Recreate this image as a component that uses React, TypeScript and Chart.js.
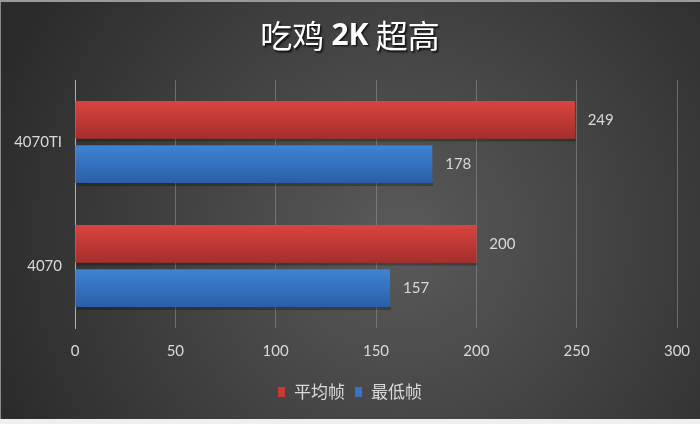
import React, { useEffect, useRef } from "react";
import { Chart, registerables } from "chart.js";

Chart.register(...registerables);

const categories = ["4070TI", "4070"];
const seriesNames = ["平均帧", "最低帧"];
const avgFps = [249, 200];
const minFps = [178, 157];
const xTicks = [0, 50, 100, 150, 200, 250, 300];
const titleText = "吃鸡 2K 超高";

const barColors = [
  { top: "#d94440", bottom: "#a52e2b", legend: "#c83a36" },
  { top: "#3f83d4", bottom: "#2b5ea6", legend: "#3874c4" },
];

const labelFont = "Lato, 'Noto Sans', sans-serif";

const bgPlugin = {
  id: "bgPlugin",
  beforeDraw(chart: any) {
    const { ctx, width, height } = chart;
    ctx.save();
    const g = ctx.createRadialGradient(400, 240, 0, 400, 240, 430);
    g.addColorStop(0, "#5a5a5a");
    g.addColorStop(1, "#2b2b2b");
    ctx.fillStyle = g;
    ctx.fillRect(0, 0, width, height);
    ctx.fillStyle = "#9a9a9a";
    ctx.fillRect(0, 0, width, 2);
    ctx.fillStyle = "#efefef";
    ctx.fillRect(0, height - 5, width, 5);
    ctx.fillStyle = "#8a8a8a";
    ctx.fillRect(0, 2, 1, height - 7);

    // title with shadow; latin segments bold
    const parts = titleText.split(/([A-Za-z0-9]+)/).filter((p) => p.length);
    const fonts = parts.map((p) =>
      /^[A-Za-z0-9]+$/.test(p)
        ? "bold 30px 'Noto Sans', 'Noto Sans CJK SC', sans-serif"
        : "400 32px 'Noto Sans CJK SC', sans-serif"
    );
    let total = 0;
    const widths = parts.map((p, i) => {
      ctx.font = fonts[i];
      const w = ctx.measureText(p).width;
      total += w;
      return w;
    });
    let x = width / 2 - total / 2;
    ctx.textBaseline = "middle";
    ctx.textAlign = "left";
    parts.forEach((p, i) => {
      ctx.font = fonts[i];
      ctx.shadowColor = "rgba(0,0,0,0.8)";
      ctx.shadowOffsetX = 1.5;
      ctx.shadowOffsetY = 1.5;
      ctx.shadowBlur = 2;
      ctx.fillStyle = "#ffffff";
      ctx.fillText(p, x, 36);
      x += widths[i];
    });
    ctx.restore();
  },
  afterDraw(chart: any) {
    // legend
    const { ctx, width } = chart;
    ctx.save();
    ctx.font = "17px 'Noto Sans CJK SC', serif";
    ctx.textBaseline = "middle";
    ctx.textAlign = "left";
    const boxW = 7;
    const boxH = 10;
    const gapBoxText = 9;
    const itemGap = 10;
    const tw = seriesNames.map((s) => ctx.measureText(s).width);
    const total =
      tw.reduce((a, b) => a + b, 0) + seriesNames.length * (boxW + gapBoxText) + itemGap * (seriesNames.length - 1);
    let x = width / 2 - total / 2;
    const y = 392;
    seriesNames.forEach((s, i) => {
      ctx.fillStyle = barColors[i].legend;
      ctx.fillRect(x, y - boxH / 2, boxW, boxH);
      x += boxW + gapBoxText;
      ctx.fillStyle = "#d9d9d9";
      ctx.fillText(s, x, y);
      x += tw[i] + itemGap;
    });
    ctx.restore();
  },
};

const barPlugin = {
  id: "barPlugin",
  afterDatasetsDraw(chart: any) {
    const { ctx } = chart;
    ctx.save();
    chart.data.datasets.forEach((ds: any, di: number) => {
      const meta = chart.getDatasetMeta(di);
      meta.data.forEach((el: any, idx: number) => {
        const x0 = Math.min(el.base, el.x);
        const w = Math.abs(el.x - el.base);
        const y0 = el.y - el.height / 2;
        const h = el.height;
        ctx.fillStyle = "rgba(0,0,0,0.25)";
        ctx.fillRect(x0 + 1, y0 + h, w, 3);
        const g = ctx.createLinearGradient(0, y0, 0, y0 + h);
        g.addColorStop(0, barColors[di].top);
        g.addColorStop(1, barColors[di].bottom);
        ctx.fillStyle = g;
        ctx.fillRect(x0, y0, w, h);
        ctx.fillStyle = "#d9d9d9";
        ctx.font = "15px " + labelFont;
        ctx.textAlign = "left";
        ctx.textBaseline = "middle";
        ctx.fillText(String(ds.data[idx]), el.x + 13, el.y);
      });
    });
    ctx.restore();
  },
};

export default function App() {
  const ref = useRef<HTMLCanvasElement>(null);
  useEffect(() => {
    document.body.style.margin = "0";
    const chart = new Chart(ref.current!, {
      type: "bar",
      data: {
        labels: categories,
        datasets: [
          {
            label: seriesNames[0],
            data: avgFps,
            backgroundColor: barColors[0].legend,
            borderWidth: 0,
            categoryPercentage: 0.718,
            barPercentage: 0.843,
          },
          {
            label: seriesNames[1],
            data: minFps,
            backgroundColor: barColors[1].legend,
            borderWidth: 0,
            categoryPercentage: 0.718,
            barPercentage: 0.843,
          },
        ],
      },
      options: {
        indexAxis: "y",
        animation: false,
        responsive: false,
        maintainAspectRatio: false,
        layout: { padding: { left: 0, right: 23, top: 80, bottom: 0 } },
        scales: {
          x: {
            min: 0,
            max: 300,
            afterBuildTicks(scale: any) {
              scale.ticks = xTicks.map((v) => ({ value: v }));
            },
            afterFit(scale: any) {
              scale.height = 96;
              scale.paddingLeft = 0;
              scale.paddingRight = 0;
            },
            grid: { color: "rgba(150,150,150,0.55)", drawTicks: false, lineWidth: 1 },
            border: { display: false },
            ticks: {
              color: "#d9d9d9",
              padding: 14,
              font: { size: 15, family: labelFont },
            },
          },
          y: {
            afterFit(scale: any) {
              scale.width = 75;
            },
            grid: { display: false, drawTicks: false },
            border: { display: true, color: "#b0b0b0", width: 1 },
            ticks: {
              color: "#d9d9d9",
              padding: 13,
              font: { size: 15, family: labelFont },
            },
          },
        },
        plugins: {
          title: { display: false },
          legend: { display: false },
          tooltip: { enabled: false },
        },
      },
      plugins: [bgPlugin, barPlugin],
    });
    return () => chart.destroy();
  }, []);
  return <canvas ref={ref} width={700} height={424} style={{ display: "block" }} />;
}
